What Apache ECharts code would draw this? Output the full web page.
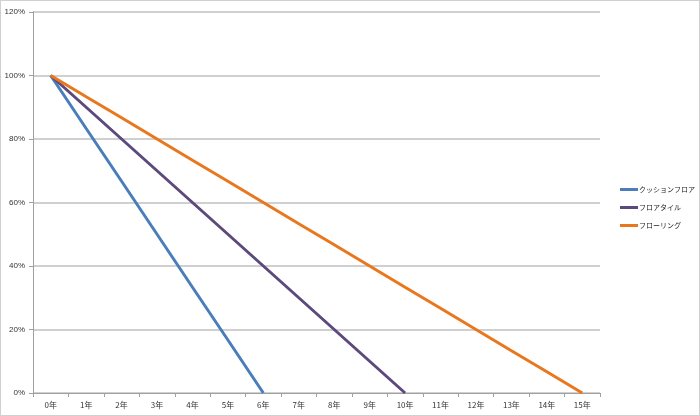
<!DOCTYPE html>
<html><head><meta charset="utf-8">
<script src="https://cdn.jsdelivr.net/npm/echarts@6/dist/echarts.min.js"></script>
<style>html,body{margin:0;padding:0;background:#fff}#c{width:698px;height:414px;border:1px solid #d0d0d0}</style>
</head><body><div id="c"></div>
<script>
const categories = ['0年','1年','2年','3年','4年','5年','6年','7年','8年','9年','10年','11年','12年','13年','14年','15年'];
const seriesNames = ['クッションフロア','フロアタイル','フローリング'];
const cushion = [1, 0.833, 0.667, 0.5, 0.333, 0.167, 0, null, null, null, null, null, null, null, null, null];
const tile = [1, 0.9, 0.8, 0.7, 0.6, 0.5, 0.4, 0.3, 0.2, 0.1, 0, null, null, null, null, null];
const flooring = [1, 0.933, 0.867, 0.8, 0.733, 0.667, 0.6, 0.533, 0.467, 0.4, 0.333, 0.267, 0.2, 0.133, 0.067, 0];
const yTicks = [0, 0.2, 0.4, 0.6, 0.8, 1.0, 1.2];
const colors = ['#4a7ebb', '#5c4a7d', '#e8771e'];

const chart = echarts.init(document.getElementById('c'));
const font = 'Liberation Sans, Arial, sans-serif';
chart.setOption({
  animation: false,
  color: colors,
  grid: {left: 32, right: 99, top: 11, bottom: 22},
  legend: {
    orient: 'vertical', left: 614, top: 180, itemWidth: 18, itemHeight: 3, itemGap: 11,
    icon: 'rect',
    textStyle: {fontSize: 7, color: '#222', fontFamily: 'Noto Sans CJK JP', padding: [0,0,0,-4]},
    data: seriesNames
  },
  xAxis: {
    type: 'category', data: categories, boundaryGap: true,
    axisLine: {lineStyle: {color: '#a0a0a0', width: 1}},
    axisTick: {show: true, length: 4, lineStyle: {color: '#a0a0a0'}},
    axisLabel: {fontSize: 8, color: '#333', fontFamily: 'Noto Sans CJK JP', margin: 8}
  },
  yAxis: {
    type: 'value', min: yTicks[0], max: yTicks[yTicks.length-1], interval: 0.2,
    axisLine: {show: true, lineStyle: {color: '#a0a0a0', width: 1}},
    axisTick: {show: true, length: 4, lineStyle: {color: '#a0a0a0'}},
    axisLabel: {fontSize: 8, color: '#333', fontFamily: font, margin: 8,
      formatter: v => Math.round(v*100) + '%'},
    splitLine: {lineStyle: {color: '#c0c0c0', width: 1.5}}
  },
  series: [
    {name: seriesNames[0], type: 'line', data: cushion, symbol: 'none', lineStyle: {width: 3}},
    {name: seriesNames[1], type: 'line', data: tile, symbol: 'none', lineStyle: {width: 3}},
    {name: seriesNames[2], type: 'line', data: flooring, symbol: 'none', lineStyle: {width: 3}}
  ]
});
</script></body></html>
